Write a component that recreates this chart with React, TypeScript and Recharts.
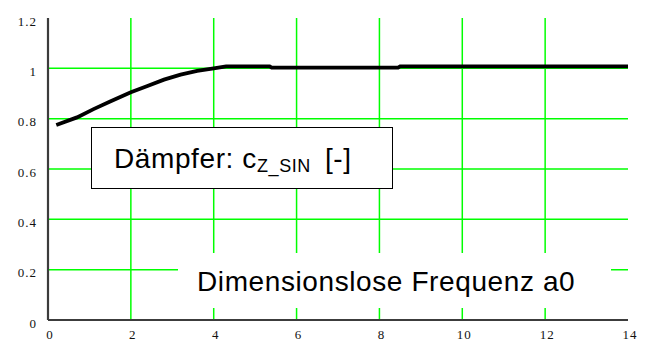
import React from 'react';
import {
  LineChart,
  Line,
  XAxis,
  YAxis,
  CartesianGrid,
} from 'recharts';

// Dimensionslose Frequenz a0
const a0 = [0.2, 0.7, 1.1, 1.5, 2.0, 2.4, 2.8, 3.2, 3.6, 4.0, 4.3, 5.35, 5.4, 8.45, 8.5, 14];
// Dämpfer c_Z_SIN [-]
const cZSin = [0.775, 0.805, 0.838, 0.868, 0.905, 0.93, 0.955, 0.975, 0.99, 1.0, 1.008, 1.008, 1.003, 1.003, 1.008, 1.008];

const xTicks = [0, 2, 4, 6, 8, 10, 12, 14];
const yTicks = [0, 0.2, 0.4, 0.6, 0.8, 1, 1.2];
const yTickLabels = ['0', '0.2', '0.4', '0.6', '0.8', '1', '1.2'];

const data = a0.map((x, i) => ({ a0: x, c: cZSin[i] }));

const tickFont = '"Liberation Serif", "Times New Roman", serif';
const labelFont = '"Liberation Sans", Arial, sans-serif';
const frame = { stroke: '#3c3c3c', strokeWidth: 2.2 };

const XTick = ({ x, y, payload }: any) => (
  <text x={x + 2} y={y} dy="0.71em" textAnchor="middle" fontSize={13} letterSpacing={1} fontFamily={tickFont} fill="#111">
    {payload.value}
  </text>
);

const YTick = ({ x, y, payload }: any) => {
  const idx = yTicks.indexOf(payload.value);
  return (
    <text x={x} y={y + 3} dy="0.355em" textAnchor="end" fontSize={13} letterSpacing={1} fontFamily={tickFont} fill="#111">
      {idx >= 0 ? yTickLabels[idx] : payload.value}
    </text>
  );
};

export default function App() {
  return (
    <div style={{ position: 'absolute', left: 0, top: 0, width: 655, height: 345, background: '#fff' }}>
      <LineChart
        width={655}
        height={345}
        data={data}
        margin={{ top: 18, right: 27, bottom: 0, left: 0 }}
      >
        <CartesianGrid
          stroke="#00ff00"
          strokeWidth={1.5}
          horizontalValues={yTicks.slice(1, -1)}
          verticalValues={xTicks.slice(1, -1)}
        />
        <XAxis
          dataKey="a0"
          type="number"
          domain={[0, 14]}
          ticks={xTicks}
          height={25}
          tickSize={0}
          tickMargin={10}
          tickLine={false}
          axisLine={frame}
          tick={<XTick />}
        />
        <XAxis
          xAxisId="top"
          dataKey="a0"
          type="number"
          domain={[0, 14]}
          orientation="top"
          height={0}
          tick={false}
          tickLine={false}
          axisLine={frame}
        />
        <YAxis
          type="number"
          domain={[0, 1.2]}
          ticks={yTicks}
          width={48}
          tickSize={0}
          tickMargin={11}
          tickLine={false}
          axisLine={frame}
          tick={<YTick />}
        />
        <YAxis
          yAxisId="right"
          type="number"
          domain={[0, 1.2]}
          orientation="right"
          width={0}
          tick={false}
          tickLine={false}
          axisLine={frame}
        />
        <Line
          dataKey="c"
          type="linear"
          stroke="#000"
          strokeWidth={3.8}
          dot={false}
          isAnimationActive={false}
        />
      </LineChart>

      {/* annotation boxes */}
      <svg
        width={655}
        height={345}
        style={{ position: 'absolute', left: 0, top: 0, pointerEvents: 'none' }}
      >
        <rect x={178} y={253} width={433} height={55} fill="#fff" />
        <text x={197} y={291} fontSize={28} fontFamily={labelFont} letterSpacing={0.6} fill="#000">
          Dimensionslose Frequenz a0
        </text>

        <rect x={91.5} y={127.5} width={301} height={61} fill="#fff" stroke="#000" strokeWidth={1} />
        <text x={114} y={168} fontSize={28} fontFamily={labelFont} letterSpacing={0.6} fill="#000">
          Dämpfer: c
          <tspan fontSize={18} dy={4}>Z_SIN</tspan>
          <tspan dx={14} dy={-4}>[-]</tspan>
        </text>
      </svg>
    </div>
  );
}
